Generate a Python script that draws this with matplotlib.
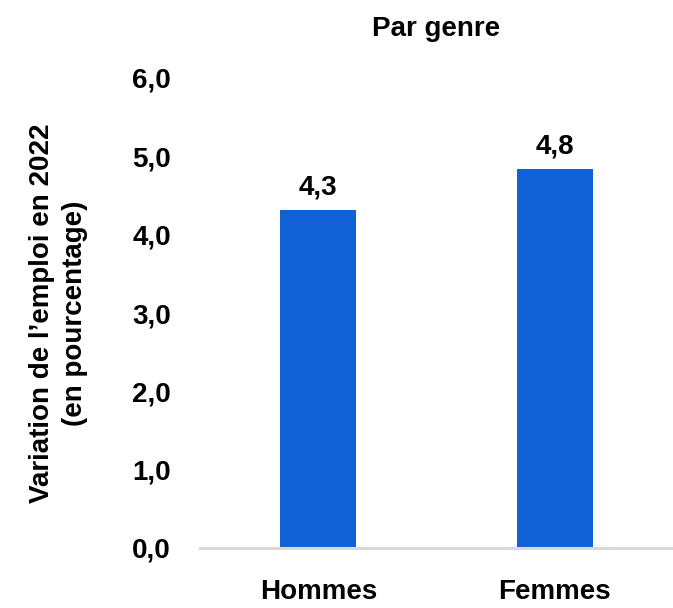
import matplotlib
matplotlib.use("Agg")
import matplotlib.pyplot as plt
from matplotlib import font_manager

# data
categories = ["Hommes", "Femmes"]
values = [4.32, 4.84]
yticks = [0, 1, 2, 3, 4, 5, 6]

names = {f.name for f in font_manager.fontManager.ttflist}
font = "Liberation Sans Narrow" if "Liberation Sans Narrow" in names else "Liberation Sans"
plt.rcParams["font.family"] = [font, "DejaVu Sans"]
plt.rcParams["font.weight"] = "bold"

fig = plt.figure(figsize=(6.73, 6.08), dpi=100)
ax = fig.add_axes([200 / 673, 60 / 608, 473 / 673, 470 / 608])

x = range(len(categories))
bars = ax.bar(x, values, width=0.32, color="#1160d6", zorder=2)

for b, v in zip(bars, values):
    ax.text(b.get_x() + b.get_width() / 2, v + 0.12, f"{v:.1f}".replace(".", ","),
            ha="center", va="bottom", fontsize=20, fontweight="bold")

ax.set_xlim(-0.5, 1.5)
ax.set_ylim(0, 6)
ax.set_yticks(yticks)
ax.set_yticklabels([f"{t:.1f}".replace(".", ",") for t in yticks], fontsize=20, fontweight="bold")
ax.set_xticks(list(x))
ax.set_xticklabels(categories, fontsize=20, fontweight="bold")
ax.tick_params(axis="y", length=0, pad=21)
ax.tick_params(axis="x", length=0, pad=22)

for s in ["top", "right", "left"]:
    ax.spines[s].set_visible(False)
ax.spines["bottom"].set_color("#d9d9d9")
ax.spines["bottom"].set_linewidth(2.2)

ax.set_ylabel("Variation de l\u2019emploi en 2022\n(en pourcentage)", fontsize=20,
              fontweight="bold", linespacing=1.35)
ax.yaxis.set_label_coords(-0.237, 0.5)
ax.set_title("Par genre", fontsize=20, fontweight="bold", pad=30)

fig.savefig("out.png", dpi=100)
